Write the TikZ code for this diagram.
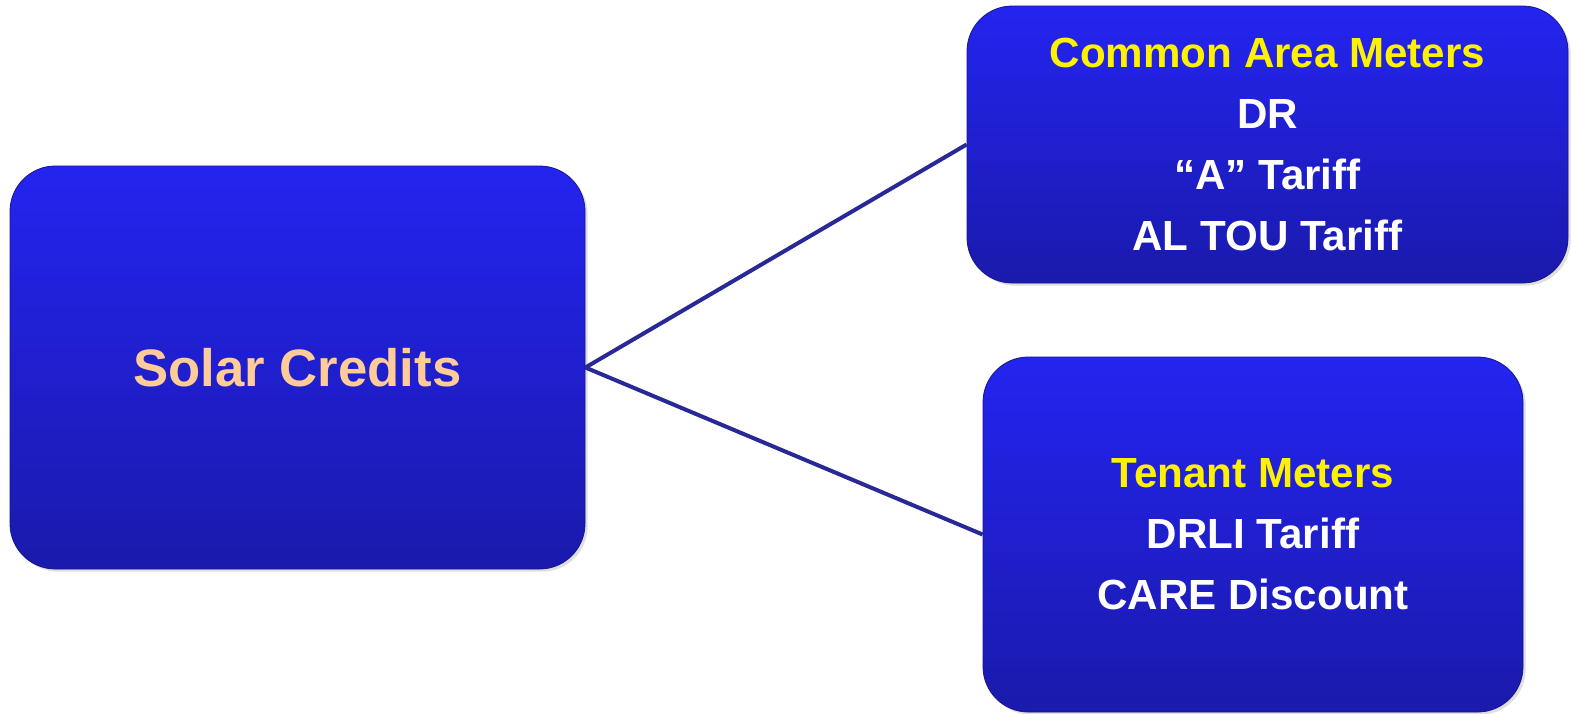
\documentclass[tikz,border=0pt]{standalone}
\usepackage{fontspec}
\setmainfont{Liberation Sans}
\usepackage{xcolor}
\usetikzlibrary{shadows}

\definecolor{boxtop}{RGB}{36,36,240}
\definecolor{boxbottom}{RGB}{26,26,172}
\definecolor{linkblue}{RGB}{40,40,150}
\definecolor{peach}{RGB}{255,204,153}

\tikzset{
  meterbox/.style={rectangle, rounded corners=34pt, draw=boxbottom!80!black, line width=0.6pt,
    top color=boxtop, bottom color=boxbottom, text=white, align=center, inner sep=0pt,
    drop shadow={opacity=0.25, shadow xshift=2pt, shadow yshift=-2pt},
    font=\bfseries\fontsize{31.6}{45.75}\selectfont},
  link/.style={draw=linkblue, line width=3pt}
}

\begin{document}
\begin{tikzpicture}[x=0.75pt,y=0.75pt,yscale=-1]
\useasboundingbox (0,0) rectangle (1575,714);

% boxes
\node [meterbox, minimum width=431.25pt, minimum height=302.25pt,
  font=\bfseries\fontsize{39.5}{45}\selectfont] (solar) at (297.5,367.5)
  {\textcolor{peach}{Solar Credits}};
\node [meterbox, minimum width=450.75pt, minimum height=207.75pt] (common) at (1267.5,144.5)
  {\textcolor{yellow}{Common Area Meters}\\DR\\``A'' Tariff\\AL TOU Tariff};
\node [meterbox, minimum width=405pt, minimum height=266.25pt] (tenant) at (1253,534.5)
  {\textcolor{yellow}{Tenant Meters}\\DRLI Tariff\\CARE Discount};

% links
\draw [link] (solar.east) -- (common.west);
\draw [link] (solar.east) -- (tenant.west);

\end{tikzpicture}
\end{document}
